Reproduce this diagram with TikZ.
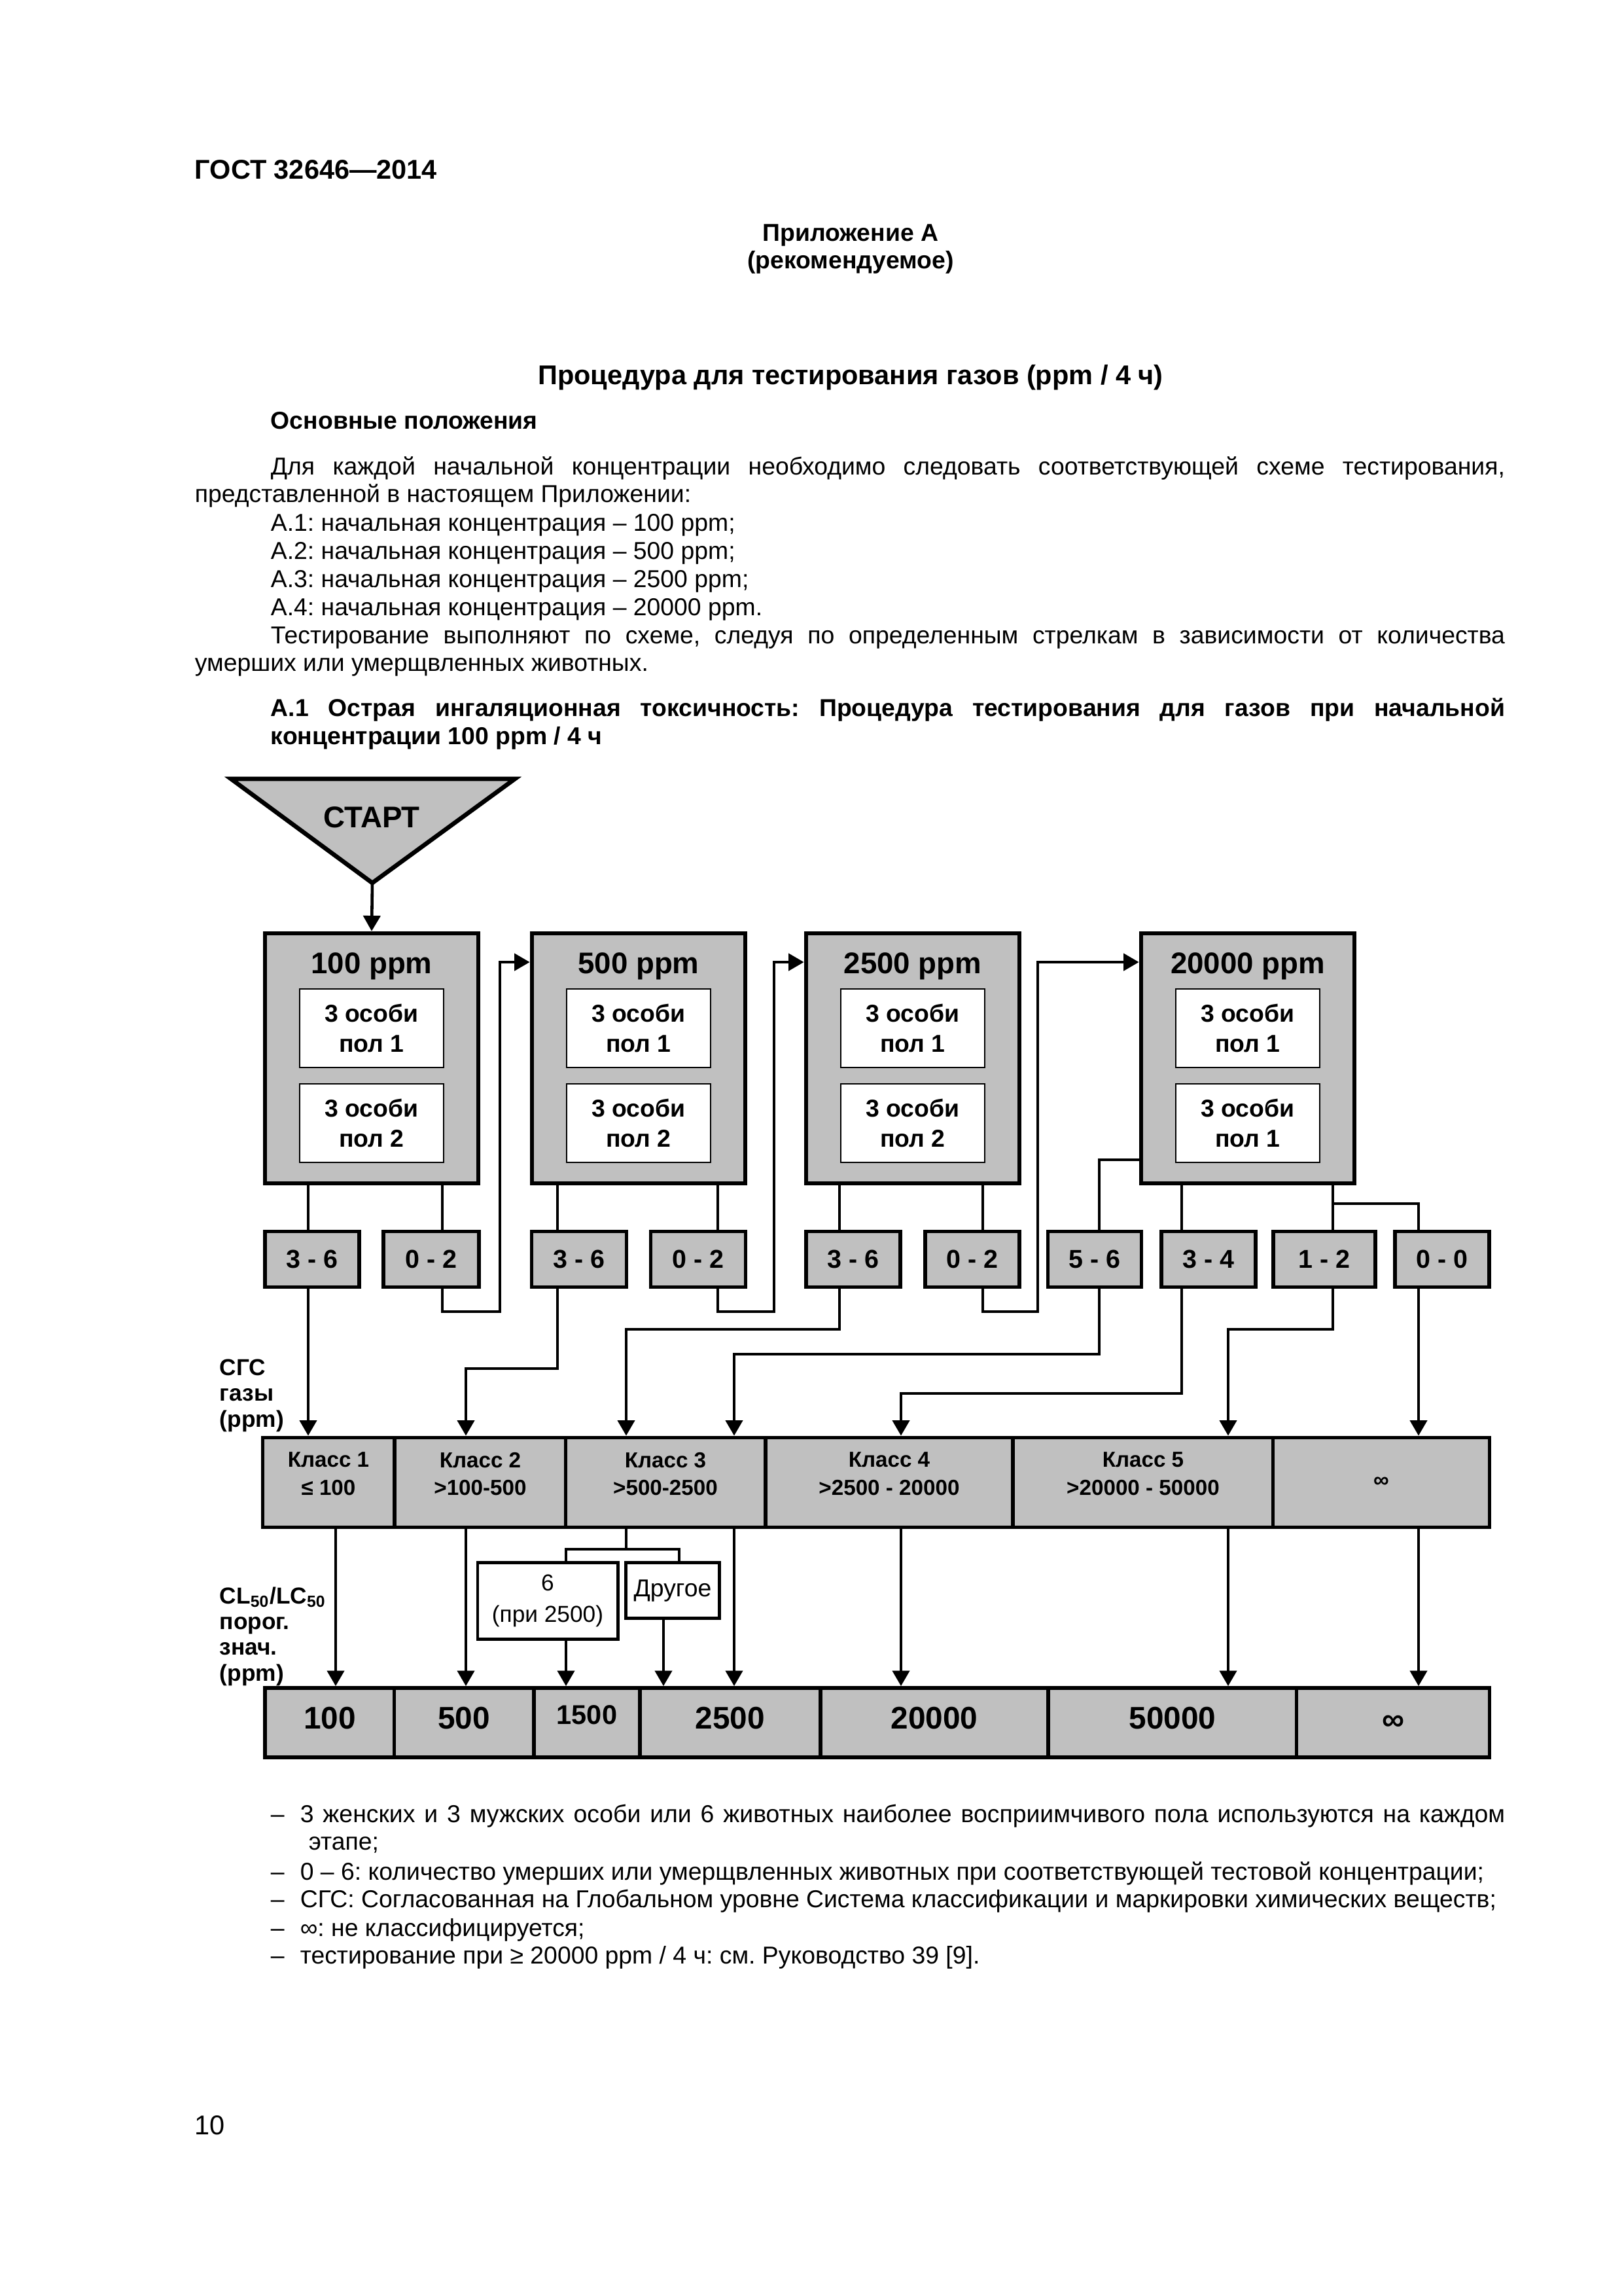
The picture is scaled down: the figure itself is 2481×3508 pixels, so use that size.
\documentclass[tikz,border=0pt]{standalone}
\usepackage{fontspec}
\setmainfont{Liberation Sans}
\usepackage{xcolor}
\usetikzlibrary{arrows.meta,positioning}
\definecolor{BoxGray}{HTML}{C0C0C0}
\newcommand{\pxu}{0.0084645cm}
\frenchspacing
\tikzset{
  link/.style={line width=1.1pt},
  arr/.style={link,-{Triangle[length=2mm,width=2.2mm]}},
  conc/.style={draw,line width=1.6pt,fill=BoxGray,inner sep=0pt},
  ctitle/.style={inner sep=0pt,font=\bfseries\fontsize{11}{13}\selectfont},
  grp/.style={draw,line width=0.7pt,fill=white,align=center,inner sep=0pt,minimum width=220*\pxu,minimum height=120*\pxu,font=\bfseries\fontsize{9}{11.3}\selectfont},
  dead/.style={draw,line width=1.4pt,fill=BoxGray,inner sep=0pt,minimum height=85*\pxu,font=\bfseries\fontsize{9.5}{11}\selectfont},
  cls/.style={draw,line width=1.4pt,fill=BoxGray,inner sep=0pt,minimum height=137*\pxu},
  clstxt/.style={inner sep=0pt,align=center,font=\bfseries\fontsize{8}{10.3}\selectfont},
  val/.style={draw,line width=1.4pt,fill=BoxGray,inner sep=0pt,minimum height=106*\pxu,text depth=3.4pt,font=\bfseries\fontsize{11.5}{13}\selectfont},
  note/.style={draw,line width=1.2pt,fill=white,inner sep=0pt,align=center,font=\fontsize{8.5}{10.5}\selectfont},
  lbl/.style={anchor=west,inner sep=0pt,align=left,font=\bfseries\fontsize{8.5}{9.5}\selectfont},
  txt/.style={anchor=base west,inner sep=0pt,font=\fontsize{9}{10.3}\selectfont},
  btxt/.style={txt,font=\bfseries\fontsize{9}{10.3}\selectfont}
}
\begin{document}
\begin{tikzpicture}[x=0.0084645cm,y=-0.0084645cm]
\fill[white] (0,0) rectangle (2481,3508);
\useasboundingbox (0,0) rectangle (2481,3508);
\node[btxt,font=\bfseries\fontsize{10}{12}\selectfont] (gost) at (297,273) {ГОСТ 32646—2014};
\node[btxt,anchor=base] (app) at (1300,368) {Приложение А};
\node[btxt,anchor=base] (rec) at (1300,410) {(рекомендуемое)};
\node[btxt,anchor=base,font=\bfseries\fontsize{10}{12}\selectfont] (title) at (1300,587) {Процедура для тестирования газов (ppm / 4 ч)};
\node[btxt] (main) at (413,655) {Основные положения};
\node[txt] (p1) at (413,725) {\makebox[15.973cm][s]{Для каждой начальной концентрации необходимо следовать соответствующей схеме тестирования,}};
\node[txt] (p2) at (297,767) {представленной в настоящем Приложении:};
\foreach \nm/\yy/\val in {q1/811/А.1: начальная концентрация – 100 ppm;,q2/854/А.2: начальная концентрация – 500 ppm;,q3/897/А.3: начальная концентрация – 2500 ppm;,q4/940/А.4: начальная концентрация – 20000 ppm.}
  \node[txt] (\nm) at (413,\yy) {\val};
\node[txt] (p3) at (413,983) {\makebox[15.973cm][s]{Тестирование выполняют по схеме, следуя по определенным стрелкам в зависимости от количества}};
\node[txt] (p4) at (297,1025) {умерших или умерщвленных животных.};
\node[btxt] (h1) at (413,1094) {\makebox[15.973cm][s]{А.1 Острая ингаляционная токсичность: Процедура тестирования для газов при начальной}};
\node[btxt] (h2) at (413,1137) {концентрации 100 ppm / 4 ч};

\fill[BoxGray,draw=black,line width=1.6pt] (353,1190) -- (787,1190) -- (569,1349) -- cycle;
\coordinate (apex) at (569,1349);
\node[ctitle] (start) at (568,1249) {СТАРТ};
\foreach \nm/\cx/\val/\sx in {A/568/100/2,B/976/500/2,C/1395/2500/2,D/1907/20000/1}{
  \node[conc,minimum width=326*\pxu,minimum height=382*\pxu] (\nm) at (\cx,1617) {};
  \node[ctitle] (\nm t) at (\cx,1476) {\val\ ppm};
  \node[grp] (\nm 1) at (\cx,1571) {3 особи\\пол 1};
  \node[grp] (\nm 2) at (\cx,1716) {3 особи\\пол \sx};
}
\foreach \nm/\cx/\w/\val in {a36/477/144/3 - 6,a02/659/146/0 - 2,b36/885/145/3 - 6,b02/1067/145/0 - 2,c36/1304/144/3 - 6,c02/1486/144/0 - 2,d56/1673/143/5 - 6,d34/1847/144/3 - 4,d12/2024/156/1 - 2,d00/2204/144/0 - 0}
  \node[dead,minimum width=\w*\pxu] (\nm) at (\cx,1924) {\val};
\foreach \nm/\cx/\w/\ty/\val in {k1/502/201/2252/{Класс 1\\≤ 100},k2/734/262/2252/{Класс 2\\>100-500},k3/1017/305/2252/{Класс 3\\>500-2500},k4/1359/378/2252/{Класс 4\\>2500 - 20000},k5/1747/398/2252/{Класс 5\\>20000 - 50000},kinf/2111/331/2265/∞}{
  \node[cls,minimum width=\w*\pxu] (\nm) at (\cx,2265) {};
  \node[clstxt] (\nm t) at (\cx,\ty) {\val};
}
\foreach \nm/\cx/\w/\val in {v100/504/198/100,v500/709/213/500,v2500/1116/276/2500,v20000/1428/348/20000,v50000/1792/380/50000}
  \node[val,minimum width=\w*\pxu] (\nm) at (\cx,2632) {\val};
\node[val,minimum width=295*\pxu,text depth=0pt] (vinf) at (2129,2632) {∞};
\node[val,minimum width=162*\pxu,text depth=6pt,font=\bfseries\fontsize{10}{12}\selectfont] (v1500) at (897,2632) {1500};
\node[note,minimum width=214*\pxu,minimum height=117*\pxu] (six) at (837,2446) {6\\[1pt](при 2500)};
\node[note,minimum width=143*\pxu,minimum height=85*\pxu,font=\fontsize{9}{11}\selectfont] (other) at (1028,2430) {Другое};
\node[lbl] (sgs) at (335,2132) {СГС\\газы\\(ppm)};
\node[lbl] (cl) at (335,2500) {CL\textsubscript{50}/LC\textsubscript{50}\\порог.\\знач.\\(ppm)};

\draw[arr] (apex) -- (A.north);
\draw[link] (A.south -| 471,0) -- (a36.north -| 471,0);
\draw[link] (A.south -| 676,0) -- (a02.north -| 676,0);
\draw[link] (B.south -| 852,0) -- (b36.north -| 852,0);
\draw[link] (B.south -| 1097,0) -- (b02.north -| 1097,0);
\draw[link] (C.south -| 1283,0) -- (c36.north -| 1283,0);
\draw[link] (C.south -| 1502,0) -- (c02.north -| 1502,0);
\draw[link] (D.west |- 0,1772) -- (1680,1772) -- (d56.north -| 1680,0);
\draw[link] (D.south -| 1806,0) -- (d34.north -| 1806,0);
\draw[link] (D.south -| 2037,0) -- (d12.north -| 2037,0);
\coordinate (split) at (2037,1839);
\draw[link] (split) -- (2168,1839) -- (d00.north -| 2168,0);
\draw[arr] (a02.south -| 676,0) -- (676,2004) -- (764,2004) -- (764,1470) -- (B.west |- 0,1470);
\draw[arr] (b02.south -| 1097,0) -- (1097,2004) -- (1183,2004) -- (1183,1470) -- (C.west |- 0,1470);
\draw[arr] (c02.south -| 1502,0) -- (1502,2004) -- (1586,2004) -- (1586,1470) -- (D.west |- 0,1470);

\draw[arr] (a36.south -| 471,0) -- (k1.north -| 471,0);
\draw[arr] (b36.south -| 852,0) -- (852,2091) -- (712,2091) -- (k2.north -| 712,0);
\draw[arr] (c36.south -| 1283,0) -- (1283,2031) -- (957,2031) -- (k3.north -| 957,0);
\draw[arr] (d56.south -| 1680,0) -- (1680,2069) -- (1122,2069) -- (k3.north -| 1122,0);
\draw[arr] (d34.south -| 1806,0) -- (1806,2129) -- (1377,2129) -- (k4.north -| 1377,0);
\draw[arr] (d12.south -| 2037,0) -- (2037,2031) -- (1877,2031) -- (k5.north -| 1877,0);
\draw[arr] (d00.south -| 2168,0) -- (kinf.north -| 2168,0);

\draw[arr] (k1.south -| 513,0) -- (v100.north -| 513,0);
\draw[arr] (k2.south -| 712,0) -- (v500.north -| 712,0);
\draw[link] (k3.south -| 957,0) -- (957,2367);
\draw[link] (six.north -| 865,0) -- (865,2367) -- (1038,2367) -- (other.north -| 1038,0);
\draw[arr] (six.south -| 865,0) -- (v1500.north -| 865,0);
\draw[arr] (other.south -| 1014,0) -- (v2500.north -| 1014,0);
\draw[arr] (k3.south -| 1122,0) -- (v2500.north -| 1122,0);
\draw[arr] (k4.south -| 1377,0) -- (v20000.north -| 1377,0);
\draw[arr] (k5.south -| 1877,0) -- (v50000.north -| 1877,0);
\draw[arr] (kinf.south -| 2168,0) -- (vinf.north -| 2168,0);

\foreach \nm/\yy in {n1/2784,n2/2872,n3/2914,n4/2958,n5/3000}
  \node[txt] (\nm) at (413,\yy) {–};
\node[txt] (m1) at (458,2784) {\makebox[15.592cm][s]{3 женских и 3 мужских особи или 6 животных наиболее восприимчивого пола используются на каждом}};
\node[txt] (m1b) at (471,2826) {этапе;};
\node[txt] (m2) at (458,2872) {0 – 6: количество умерших или умерщвленных животных при соответствующей тестовой концентрации;};
\node[txt] (m3) at (458,2914) {СГС: Согласованная на Глобальном уровне Система классификации и маркировки химических веществ;};
\node[txt] (m4) at (458,2958) {∞: не классифицируется;};
\node[txt] (m5) at (458,3000) {тестирование при ≥ 20000 ppm / 4 ч: см. Руководство 39 [9].};
\node[txt,font=\fontsize{10}{12}\selectfont] (page) at (297,3261) {10};
\end{tikzpicture}
\end{document}
